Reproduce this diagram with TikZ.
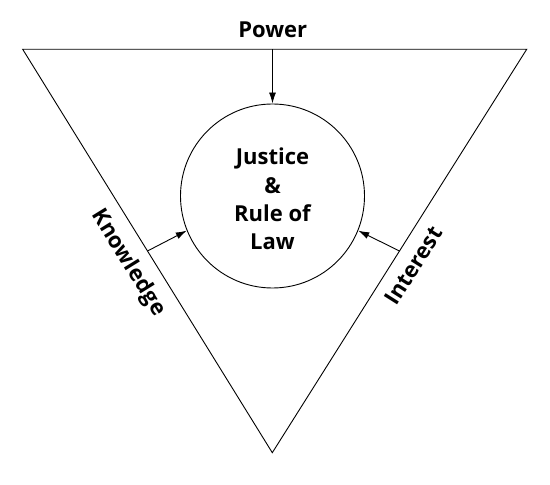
\documentclass[tikz,border=0pt]{standalone}
\usepackage{fontspec}
\setmainfont{Open Sans}
\usetikzlibrary{arrows.meta}

\begin{document}
\begin{tikzpicture}[x=1pt,y=1pt,line width=0.9pt,
  lbl/.style={font=\fontsize{22}{28.3}\selectfont\bfseries},
  arr/.style={-{Latex[length=11pt,width=7pt]}}]
\useasboundingbox (0,0) rectangle (550,485);
% triangle
\coordinate (tl) at (22.7,435.7);
\coordinate (tr) at (526.7,435.7);
\coordinate (bt) at (272.3,32.3);
\draw (tl) -- (tr) -- (bt) -- cycle;
% circle in the middle
\node[draw,circle,minimum size=184pt,inner sep=0pt] (jr) at (272.5,289) {};
\node[lbl,align=center] (jt) at (272.5,286) {Justice\\\&\\Rule of\\Law};
% labels on the sides
\node[lbl,anchor=base] (pw) at (272.8,447) {Power};
\path (tl) -- (bt) coordinate[pos=0.5] (kn)
  node[lbl,pos=0.5,sloped,below=8pt] (knl) {Knowledge};
\path (bt) -- (tr) coordinate[pos=0.5] (in)
  node[lbl,pos=0.49,sloped,below=8pt] (inl) {Interest};
\coordinate (pt) at (jr.north |- tl);
% arrows
\draw[arr] (pt) -- (jr.north);
\draw[arr] (kn) -- (jr.202);
\draw[arr] (in) -- (jr.338);
\end{tikzpicture}
\end{document}
